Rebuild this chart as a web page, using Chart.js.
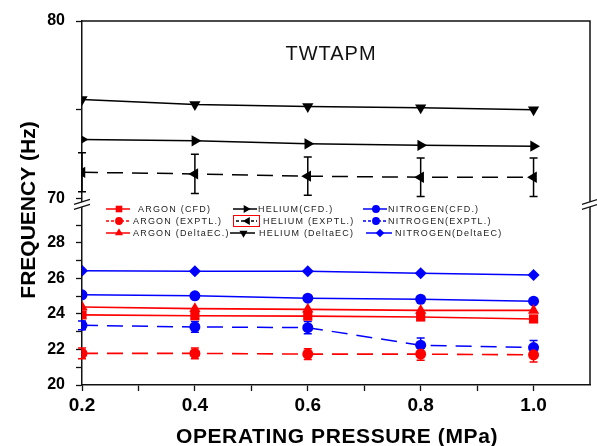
<!DOCTYPE html>
<html><head><meta charset="utf-8">
<script src="https://cdn.jsdelivr.net/npm/chart.js@4.4.1/dist/chart.umd.min.js"></script>
<style>html,body{margin:0;padding:0;background:#fff;} canvas{display:block;}</style>
</head><body>
<canvas id="c" width="597" height="446"></canvas>
<script>
// ---- data ----
const pressures = [0.2, 0.4, 0.6, 0.8, 1.0];
const argonCFD = [23.95, 23.9, 23.88, 23.83, 23.72];
const argonEXPTL = [21.78, 21.78, 21.74, 21.74, 21.7];
const argonEXPTLErr = [0.3, 0.3, 0.3, 0.35, 0.4];
const argonDeltaEC = [24.39, 24.3, 24.26, 24.2, 24.2];
const heliumCFD = [73.33, 73.25, 73.08, 73.0, 72.95];
const heliumEXPTL = [71.48, 71.39, 71.26, 71.2, 71.2];
const heliumEXPTLErr = [1.1, 1.1, 1.08, 1.08, 1.08];
const heliumDeltaEC = [75.58, 75.3, 75.19, 75.12, 75.0];
const nitrogenCFD = [25.08, 25.02, 24.89, 24.83, 24.72];
const nitrogenEXPTL = [23.36, 23.27, 23.23, 22.24, 22.11];
const nitrogenEXPTLErr = [0.25, 0.3, 0.35, 0.4, 0.4];
const nitrogenDeltaEC = [26.44, 26.4, 26.4, 26.29, 26.2];

const xTicks = [0.2, 0.3, 0.4, 0.5, 0.6, 0.7, 0.8, 0.9, 1.0];
const xLabelTicks = [0.2, 0.4, 0.6, 0.8, 1.0];
const lowerTicks = [20, 21, 22, 23, 24, 25, 26, 27, 28, 29];
const lowerLabelTicks = [20, 22, 24, 26, 28];
const upperTicks = [70, 75, 80];
const upperLabelTicks = [70, 80];

const chartTitle = 'TWTAPM';
const xTitle = 'OPERATING PRESSURE (MPa)';
const yTitle = 'FREQUENCY (Hz)';
const legendLabels = ['ARGON (CFD)', 'ARGON (EXPTL.)', 'ARGON (DeltaEC.)',
  'HELIUM(CFD.)', 'HELIUM (EXPTL.)', 'HELIUM (DeltaEC)',
  'NITROGEN(CFD.)', 'NITROGEN(EXPTL.)', 'NITROGEN(DeltaEC)'];

// ---- styling ----
const RED = 'rgb(255,0,0)', BLUE = 'rgb(0,0,255)', BLACK = 'rgb(0,0,0)';
const FONT = '"Liberation Sans", Arial, Helvetica, sans-serif';
const DASH = [16, 9];

function pts(arr) { return arr.map((v, i) => ({x: pressures[i], y: v})); }

const seriesDefs = [
  {data: argonCFD, color: RED, axis: 'yLower', style: 'rect', rot: 0, r: 6.5, dash: [], lw: 1.6},
  {data: argonEXPTL, color: RED, axis: 'yLower', style: 'circle', rot: 0, r: 5.5, dash: DASH, lw: 1.6, err: argonEXPTLErr},
  {data: argonDeltaEC, color: RED, axis: 'yLower', style: 'triangle', rot: 0, r: 6.5, dash: [], lw: 1.6},
  {data: heliumCFD, color: BLACK, axis: 'yUpper', style: 'triangle', rot: 90, r: 6.5, dash: [], lw: 1.5},
  {data: heliumEXPTL, color: BLACK, axis: 'yUpper', style: 'triangle', rot: 270, r: 6.5, dash: DASH, lw: 1.5, err: heliumEXPTLErr},
  {data: heliumDeltaEC, color: BLACK, axis: 'yUpper', style: 'triangle', rot: 180, r: 6.5, dash: [], lw: 1.5},
  {data: nitrogenCFD, color: BLUE, axis: 'yLower', style: 'circle', rot: 0, r: 5.5, dash: [], lw: 1.5},
  {data: nitrogenEXPTL, color: BLUE, axis: 'yLower', style: 'circle', rot: 0, r: 5.5, dash: DASH, lw: 1.5, err: nitrogenEXPTLErr},
  {data: nitrogenDeltaEC, color: BLUE, axis: 'yLower', style: 'rectRot', rot: 0, r: 6, dash: [], lw: 1.5},
];

const datasets = seriesDefs.map((s, i) => ({
  label: legendLabels[i],
  data: pts(s.data),
  yAxisID: s.axis,
  borderColor: s.color,
  backgroundColor: s.color,
  borderWidth: s.lw,
  borderDash: s.dash,
  pointStyle: s.style,
  pointRotation: s.rot,
  pointRadius: s.r,
  pointBorderWidth: 0,
  pointBackgroundColor: s.color,
  tension: 0,
  fill: false,
  errors: s.err || null
}));

// legend layout (pixel placement only)
const legendLayout = [
  {x1: 106, x2: 130, tx: 138, row: 0},
  {x1: 106, x2: 130, tx: 133, row: 1},
  {x1: 106, x2: 130, tx: 133, row: 2},
  {x1: 233, x2: 257, tx: 258, row: 0},
  {x1: 236, x2: 257, tx: 263, row: 1, box: true},
  {x1: 230, x2: 255, tx: 259, row: 2},
  {x1: 363, x2: 387, tx: 388, row: 0},
  {x1: 363, x2: 387, tx: 388, row: 1},
  {x1: 366, x2: 392, tx: 395, row: 2},
];
const legendRowsY = [209, 221, 233];

const decor = {
  id: 'decor',
  beforeDatasetsDraw(chart) {
    const ctx = chart.ctx, xs = chart.scales.x;
    ctx.save();
    chart.data.datasets.forEach(ds => {
      if (!ds.errors) return;
      const ys = chart.scales[ds.yAxisID];
      ctx.strokeStyle = ds.borderColor;
      ctx.lineWidth = 1.5;
      ctx.setLineDash([]);
      ds.data.forEach((p, i) => {
        const e = ds.errors[i];
        const x = xs.getPixelForValue(p.x);
        const y1 = ys.getPixelForValue(p.y + e), y2 = ys.getPixelForValue(p.y - e);
        ctx.beginPath();
        ctx.moveTo(x, y1); ctx.lineTo(x, y2);
        ctx.moveTo(x - 4, y1); ctx.lineTo(x + 4, y1);
        ctx.moveTo(x - 4, y2); ctx.lineTo(x + 4, y2);
        ctx.stroke();
      });
    });
    ctx.restore();
  },
  afterDraw(chart) {
    const ctx = chart.ctx, a = chart.chartArea;
    const b = chart.scales.yUpper.bottom;
    ctx.save();
    // frame top & right
    ctx.strokeStyle = '#111';
    ctx.lineWidth = 1.5;
    ctx.setLineDash([]);
    ctx.beginPath();
    ctx.moveTo(a.left, a.top); ctx.lineTo(a.right, a.top); ctx.lineTo(a.right, a.bottom);
    ctx.stroke();
    // axis breaks
    [a.left, a.right].forEach(x => {
      ctx.fillStyle = '#fff';
      ctx.beginPath();
      ctx.moveTo(x - 8, b + 0.5); ctx.lineTo(x + 8, b - 4.5); ctx.lineTo(x + 8, b + 0.5); ctx.lineTo(x - 8, b + 5.5);
      ctx.closePath(); ctx.fill();
      ctx.strokeStyle = '#111';
      ctx.lineWidth = 1.1;
      ctx.beginPath();
      ctx.moveTo(x - 8, b + 0.5); ctx.lineTo(x + 8, b - 4.5);
      ctx.moveTo(x - 8, b + 5.5); ctx.lineTo(x + 8, b + 0.5);
      ctx.stroke();
    });
    // legend
    chart.data.datasets.forEach((ds, i) => {
      const L = legendLayout[i];
      const y = legendRowsY[L.row];
      ctx.strokeStyle = ds.borderColor;
      ctx.fillStyle = ds.borderColor;
      ctx.lineWidth = 1.5;
      ctx.setLineDash(ds.borderDash.length ? [3, 2] : []);
      ctx.beginPath(); ctx.moveTo(L.x1, y); ctx.lineTo(L.x2, y); ctx.stroke();
      ctx.setLineDash([]);
      Chart.helpers.drawPoint(ctx, {pointStyle: ds.pointStyle, rotation: ds.pointRotation, radius: ds.pointRadius * 0.72, borderWidth: 0}, (L.x1 + L.x2) / 2 + 1, y);
      if (L.box) {
        ctx.strokeStyle = RED; ctx.lineWidth = 1;
        ctx.strokeRect(233.5, y - 5.5, 26, 11);
      }
      ctx.fillStyle = '#222';
      ctx.font = '9px ' + FONT;
      ctx.letterSpacing = '1.2px';
      ctx.textAlign = 'left';
      ctx.textBaseline = 'middle';
      ctx.fillText(ds.label, L.tx, y + 0.5);
    });
    ctx.letterSpacing = '0px';
    // chart title
    ctx.fillStyle = '#111';
    ctx.font = '20px ' + FONT;
    ctx.letterSpacing = '1px';
    ctx.textAlign = 'center';
    ctx.textBaseline = 'alphabetic';
    ctx.fillText(chartTitle, 331, 60);
    // x title
    ctx.fillStyle = '#000';
    ctx.font = 'bold 21px ' + FONT;
    ctx.letterSpacing = '0.6px';
    ctx.fillText(xTitle, 337, 443);
    // y title
    ctx.translate(35, 210);
    ctx.rotate(-Math.PI / 2);
    ctx.letterSpacing = '0px';
    ctx.fillText(yTitle, 0, 0);
    ctx.restore();
  }
};

const axisBase = {
  border: {display: true, color: '#111', width: 1.5},
  grid: {display: true, drawOnChartArea: false, drawTicks: true, tickLength: 6, color: '#111', tickWidth: 1.3},
};

new Chart(document.getElementById('c'), {
  type: 'line',
  data: {datasets},
  options: {
    responsive: false,
    animation: false,
    devicePixelRatio: 1,
    layout: {padding: {left: 0, top: 21, right: 7, bottom: 0}},
    plugins: {legend: {display: false}, tooltip: {enabled: false}, title: {display: false}},
    scales: {
      x: {
        ...axisBase,
        type: 'linear', position: 'bottom', min: 0.2, max: 1.1,
        afterBuildTicks: s => { s.ticks = xTicks.map(v => ({value: v})); },
        afterFit: s => { s.height = 61; },
        ticks: {
          autoSkip: false, maxRotation: 0, padding: 3, color: '#000',
          font: {family: FONT, size: 19, weight: 'bold'},
          callback: v => xLabelTicks.some(t => Math.abs(t - v) < 1e-6) ? v.toFixed(1) : ''
        }
      },
      yLower: {
        ...axisBase,
        type: 'linear', position: 'left', stack: 'yy', stackWeight: 10.2, min: 20, max: 30.2,
        afterBuildTicks: s => { s.ticks = lowerTicks.map(v => ({value: v})); },
        afterFit: s => { s.width = 82; },
        ticks: {
          autoSkip: false, padding: 11, color: '#000',
          font: {family: FONT, size: 16, weight: 'bold'},
          callback: v => lowerLabelTicks.includes(v) ? String(v) : ''
        }
      },
      yUpper: {
        ...axisBase,
        type: 'linear', position: 'left', stack: 'yy', stackWeight: 10.3, min: 69.7, max: 80,
        afterBuildTicks: s => { s.ticks = upperTicks.map(v => ({value: v})); },
        afterFit: s => { s.width = 82; },
        ticks: {
          autoSkip: false, padding: 11, color: '#000',
          font: {family: FONT, size: 16, weight: 'bold'},
          callback: v => upperLabelTicks.includes(v) ? String(v) : ''
        }
      }
    }
  },
  plugins: [decor]
});
</script>
</body></html>
